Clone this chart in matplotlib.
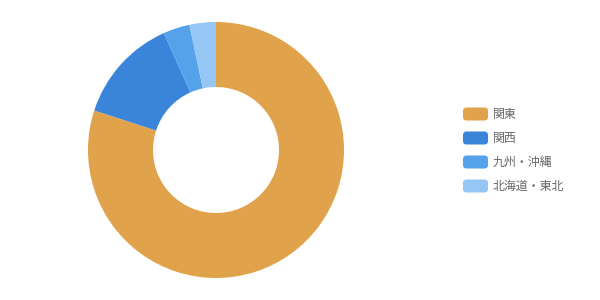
import matplotlib
matplotlib.use("Agg")
import matplotlib.pyplot as plt
from matplotlib.patches import FancyBboxPatch

plt.rcParams['font.family'] = ['Noto Sans CJK JP', 'DejaVu Sans']

# data
regions = ['関東', '関西', '九州・沖縄', '北海道・東北']
values = [240, 40, 10, 10]
colors = ['#e0a34c', '#3a84d9', '#55a2eb', '#95c6f4']

W, H = 600, 300
fig = plt.figure(figsize=(6, 3), dpi=100)
fig.patch.set_facecolor('white')

# donut, centre at (216, 150) px, outer radius 128 px
cx, cy, box = 216, 150, 130
ax = fig.add_axes([(cx - box) / W, (H - cy - box) / H, 2 * box / W, 2 * box / H])
ax.pie(values, colors=colors, startangle=90, counterclock=False,
       radius=128 / box, wedgeprops=dict(width=65 / box, linewidth=0))
ax.set_xlim(-1, 1)
ax.set_ylim(-1, 1)
ax.set_aspect('equal')
ax.axis('off')

# legend drawn by hand to get the rounded swatches
for i, (name, col) in enumerate(zip(regions, colors)):
    yc = 114 + 24 * i
    sw = FancyBboxPatch((463 / W, (H - yc - 6.5) / H), 25 / W, 13 / H,
                        boxstyle="round,pad=0,rounding_size=0.006",
                        transform=fig.transFigure, facecolor=col, edgecolor='none',
                        mutation_aspect=2)
    fig.patches.append(sw)
    fig.text(493 / W, (H - yc) / H, name, fontsize=8.6, color='#666666',
             va='center', ha='left')

fig.savefig('out.png', dpi=100)
